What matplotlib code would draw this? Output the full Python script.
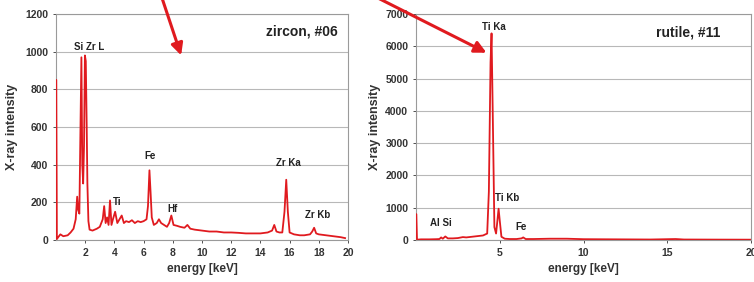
import matplotlib
matplotlib.use("Agg")
import matplotlib.pyplot as plt

plt.rcParams['font.family'] = ['Liberation Sans', 'DejaVu Sans']
plt.rcParams['font.weight'] = 'bold'
plt.rcParams['axes.labelweight'] = 'bold'

# --- zircon #06 spectrum ---
zircon_e = [0.0, 0.02, 0.06, 0.15, 0.3, 0.5, 0.8, 1.0, 1.2, 1.35, 1.45, 1.52, 1.6, 1.66, 1.74,
            1.8, 1.86, 1.92, 1.98, 2.04, 2.1, 2.15, 2.22, 2.3, 2.5, 2.8, 3.0, 3.2, 3.3, 3.4,
            3.5, 3.6, 3.7, 3.8, 3.9, 4.05, 4.2, 4.35, 4.5, 4.65, 4.8, 5.0, 5.2, 5.4, 5.6,
            5.8, 6.0, 6.2, 6.3, 6.4, 6.48, 6.56, 6.7, 6.9, 7.05, 7.2, 7.4, 7.6, 7.75, 7.9,
            8.05, 8.3, 8.5, 8.8, 9.0, 9.2, 9.5, 10.0, 10.5, 11.0, 11.5, 12.0, 12.5, 13.0,
            13.5, 14.0, 14.5, 14.8, 14.95, 15.1, 15.3, 15.5, 15.65, 15.77, 15.88, 16.0,
            16.3, 16.7, 17.0, 17.4, 17.55, 17.68, 17.82, 18.0, 18.5, 19.0, 19.5, 19.8]
zircon_i = [850, 850, 5, 15, 30, 20, 25, 40, 60, 110, 230, 160, 140, 500, 970,
            400, 300, 500, 980, 950, 620, 300, 100, 55, 50, 60, 70, 110, 180, 90,
            120, 80, 210, 80, 110, 150, 90, 110, 130, 90, 100, 95, 105, 90, 100,
            95, 100, 110, 180, 370, 250, 120, 80, 90, 110, 90, 80, 70, 90, 130,
            80, 75, 70, 65, 80, 60, 55, 50, 45, 45, 40, 40, 38, 35,
            35, 35, 40, 50, 80, 45, 40, 40, 150, 320, 150, 40,
            30, 25, 25, 30, 45, 65, 35, 30, 25, 20, 15, 10]

# --- rutile #11 spectrum ---
rutile_e = [0.0, 0.02, 0.06, 0.3, 0.8, 1.2, 1.4, 1.5, 1.6, 1.75, 1.9, 2.2, 2.5, 2.8, 3.0,
            3.5, 4.0, 4.25, 4.35, 4.45, 4.51, 4.58, 4.68, 4.78, 4.86, 4.93, 5.0, 5.1,
            5.3, 5.6, 6.0, 6.3, 6.4, 6.55, 7.0, 8.0, 9.0, 10.0, 12.0, 14.0, 15.5, 16.0,
            18.0, 20.0]
rutile_i = [800, 800, 10, 20, 20, 25, 30, 80, 40, 110, 50, 50, 60, 90, 80,
            110, 140, 200, 1500, 5500, 6400, 4000, 400, 200, 600, 970, 600, 100,
            40, 30, 30, 50, 80, 30, 30, 40, 40, 25, 20, 15, 30, 15,
            12, 10]

zircon_labels = [("Si Zr L", 2.3, 1000), ("Fe", 6.45, 420), ("Ti", 4.2, 175),
                 ("Hf", 7.95, 140), ("Zr Ka", 15.9, 380), ("Zr Kb", 17.95, 105)]
rutile_labels = [("Ti Ka", 4.65, 6450), ("Ti Kb", 5.45, 1150), ("Al Si", 1.5, 380),
                 ("Fe", 6.3, 260)]

RED = '#e01a1f'

fig = plt.figure(figsize=(7.54, 2.82), dpi=100)
W, H = 754, 282


def px_axes(l, t, r, b):
    return fig.add_axes([l / W, 1 - b / H, (r - l) / W, (b - t) / H])


def style(ax, ymax, ystep, xticks, ylabel_pad):
    ax.set_xlim(0, 20)
    ax.set_ylim(0, ymax)
    ax.set_yticks(range(0, ymax + 1, ystep))
    ax.set_xticks(xticks)
    ax.grid(axis='y', color='#b8b8b8', lw=0.8)
    ax.set_axisbelow(True)
    for s in ax.spines.values():
        s.set_color('#9a9a9a')
        s.set_linewidth(0.8)
    ax.tick_params(labelsize=7.5, colors='#333333', length=2, width=0.6)
    ax.set_xlabel('energy [keV]', fontsize=8.5, color='#333333', labelpad=4)
    ax.set_ylabel('X-ray intensity', fontsize=9, color='#333333', labelpad=ylabel_pad)


ax1 = px_axes(56, 14, 348, 240)
ax1.plot(zircon_e, zircon_i, color=RED, lw=1.3, zorder=3)
style(ax1, 1200, 200, range(2, 21, 2), 5)
for txt, x, y in zircon_labels:
    ax1.text(x, y, txt, ha='center', va='bottom', fontsize=7, color='#222222')
ax1.text(19.3, 1105, 'zircon, #06', ha='right', va='center', fontsize=10, color='#222222')

ax2 = px_axes(416, 14, 751, 240)
ax2.plot(rutile_e, rutile_i, color=RED, lw=1.3, zorder=3)
style(ax2, 7000, 1000, [5, 10, 15, 20], 3)
for txt, x, y in rutile_labels:
    ax2.text(x, y, txt, ha='center', va='bottom', fontsize=7, color='#222222')
ax2.text(18.2, 6440, 'rutile, #11', ha='right', va='center', fontsize=10, color='#222222')

# red arrows coming from above the figure
arrow = dict(arrowstyle='-|>,head_length=0.7,head_width=0.35', color=RED, lw=2.2)
ax1.annotate('', xy=(182 / W, 1 - 58 / H), xytext=(160 / W, 1 + 8 / H),
             xycoords='figure fraction', arrowprops=arrow, annotation_clip=False)
ax2.annotate('', xy=(489 / W, 1 - 54 / H), xytext=(366 / W, 1 + 8 / H),
             xycoords='figure fraction', arrowprops=arrow, annotation_clip=False)

fig.savefig('out.png', dpi=100)
